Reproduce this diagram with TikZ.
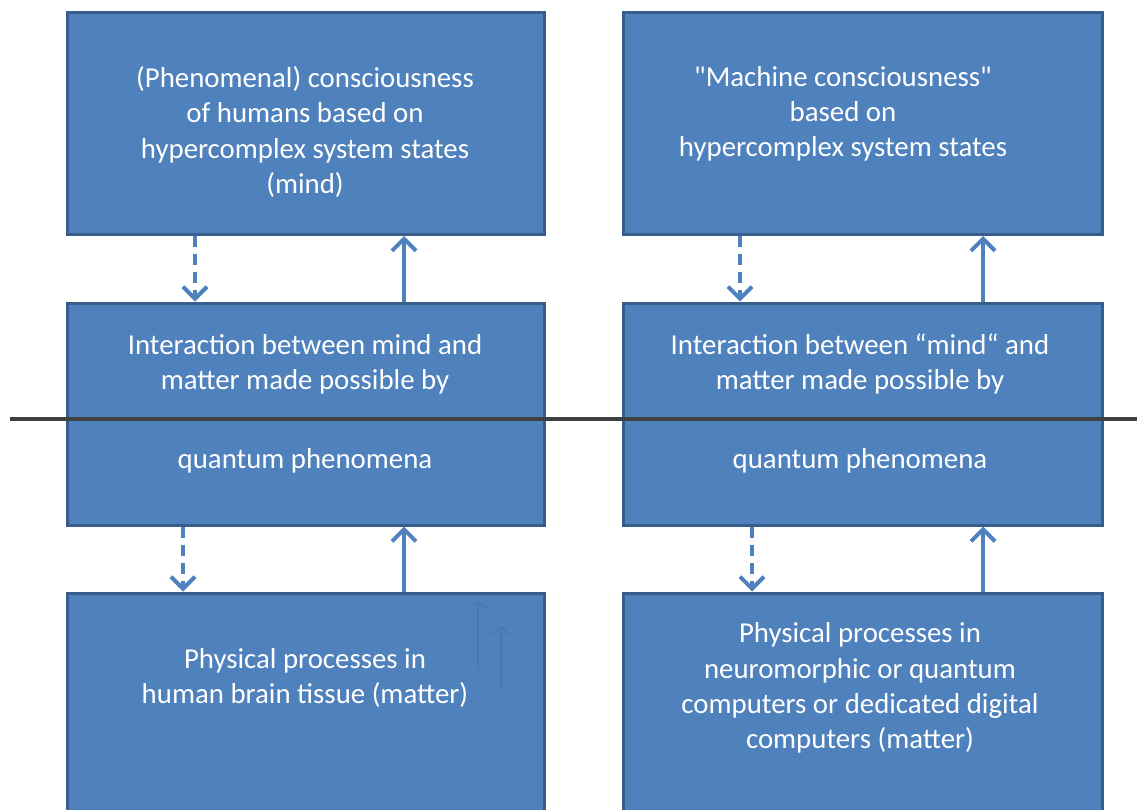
\documentclass[tikz,border=0pt]{standalone}
\usepackage{fontspec}
\setmainfont{Carlito}
\usetikzlibrary{arrows.meta,calc}
\newdimen\px \px=0.025cm
\definecolor{boxblue}{RGB}{79,129,189}
\definecolor{boxedge}{RGB}{56,93,138}
\definecolor{ghostblue}{RGB}{73,121,180}
\definecolor{splitgray}{RGB}{64,64,64}
\tikzset{
	box/.style={rectangle, fill=boxblue, draw=boxedge, line width=3\px, minimum width=477\px, minimum height=222\px},
	words/.style={text=white, align=center, font=\fontsize{20.5}{25}\selectfont},
	upArrow/.style={draw=boxblue, line width=0.1cm, -{Straight Barb[length=0.3cm,width=0.6cm,line width=0.1cm]}},
	downArrow/.style={upArrow, dash pattern=on 0.28cm off 0.17cm}
}

\begin{document}
\begin{tikzpicture}[x=1\px, y=-1\px]
			%%%%% START %%%%%
			\useasboundingbox (0, 0) rectangle (1137, 809);
			
			\node[box] (humanMind) at (305.5, 123.5) {};
			\node[box, minimum width=479\px] (machineMind) at (862.5, 123.5) {};
			\node[box] (humanLink) at (305.5, 414) {};
			\node[box, minimum width=479\px] (machineLink) at (862.5, 414) {};
			\node[box] (humanMatter) at (305.5, 704) {};
			\node[box, minimum width=479\px] (machineMatter) at (862.5, 704) {};
			
			\node[words] (humanMindTxt) at (305, 132) {(Phenomenal) consciousness\\of humans based on\\hypercomplex system states\\(mind)};
			\node[words] (machineMindTxt) at (843, 114) {\textquotedbl Machine consciousness\textquotedbl\\based on\\hypercomplex system states};
			\node[words] (humanLinkTxt) at (305, 364) {Interaction between mind and\\matter made possible by};
			\node[words] (machineLinkTxt) at (860, 364) {Interaction between “mind“ and\\matter made possible by};
			\node[words] (humanQuantum) at (305, 461) {quantum phenomena};
			\node[words] (machineQuantum) at (860, 461) {quantum phenomena};
			\node[words] (humanMatterTxt) at (305, 678) {Physical processes in\\human brain tissue (matter)};
			\node[words] (machineMatterTxt) at (860, 688) {Physical processes in\\neuromorphic or quantum\\computers or dedicated digital\\computers (matter)};
			
			\draw[downArrow] (195,0 |- humanMind.south) -- (195,0 |- humanLink.north);
			\draw[upArrow] (404,0 |- humanLink.north) -- (404,0 |- humanMind.south);
			\draw[downArrow] (183,0 |- humanLink.south) -- (183,0 |- humanMatter.north);
			\draw[upArrow] (404,0 |- humanMatter.north) -- (404,0 |- humanLink.south);
			
			\draw[downArrow] (740,0 |- machineMind.south) -- (740,0 |- machineLink.north);
			\draw[upArrow] (983,0 |- machineLink.north) -- (983,0 |- machineMind.south);
			\draw[downArrow] (752,0 |- machineLink.south) -- (752,0 |- machineMatter.north);
			\draw[upArrow] (983,0 |- machineMatter.north) -- (983,0 |- machineLink.south);
			
			\coordinate (ghostA) at (478, 668);
			\coordinate (ghostB) at (501, 690);
			\draw[ghostblue, line width=0.04cm, -{Straight Barb[length=0.22cm,width=0.5cm,line width=0.04cm]}] (ghostA) -- (478, 600);
			\draw[ghostblue, line width=0.04cm, -{Straight Barb[length=0.22cm,width=0.5cm,line width=0.04cm]}] (ghostB) -- (501, 626);
			
			\coordinate (splitL) at (10, 419);
			\coordinate (splitR) at (1137, 419);
			\draw[splitgray, line width=3.5\px] (splitL) -- (splitR);
			
			%%%%% END %%%%%
\end{tikzpicture}
\end{document}
